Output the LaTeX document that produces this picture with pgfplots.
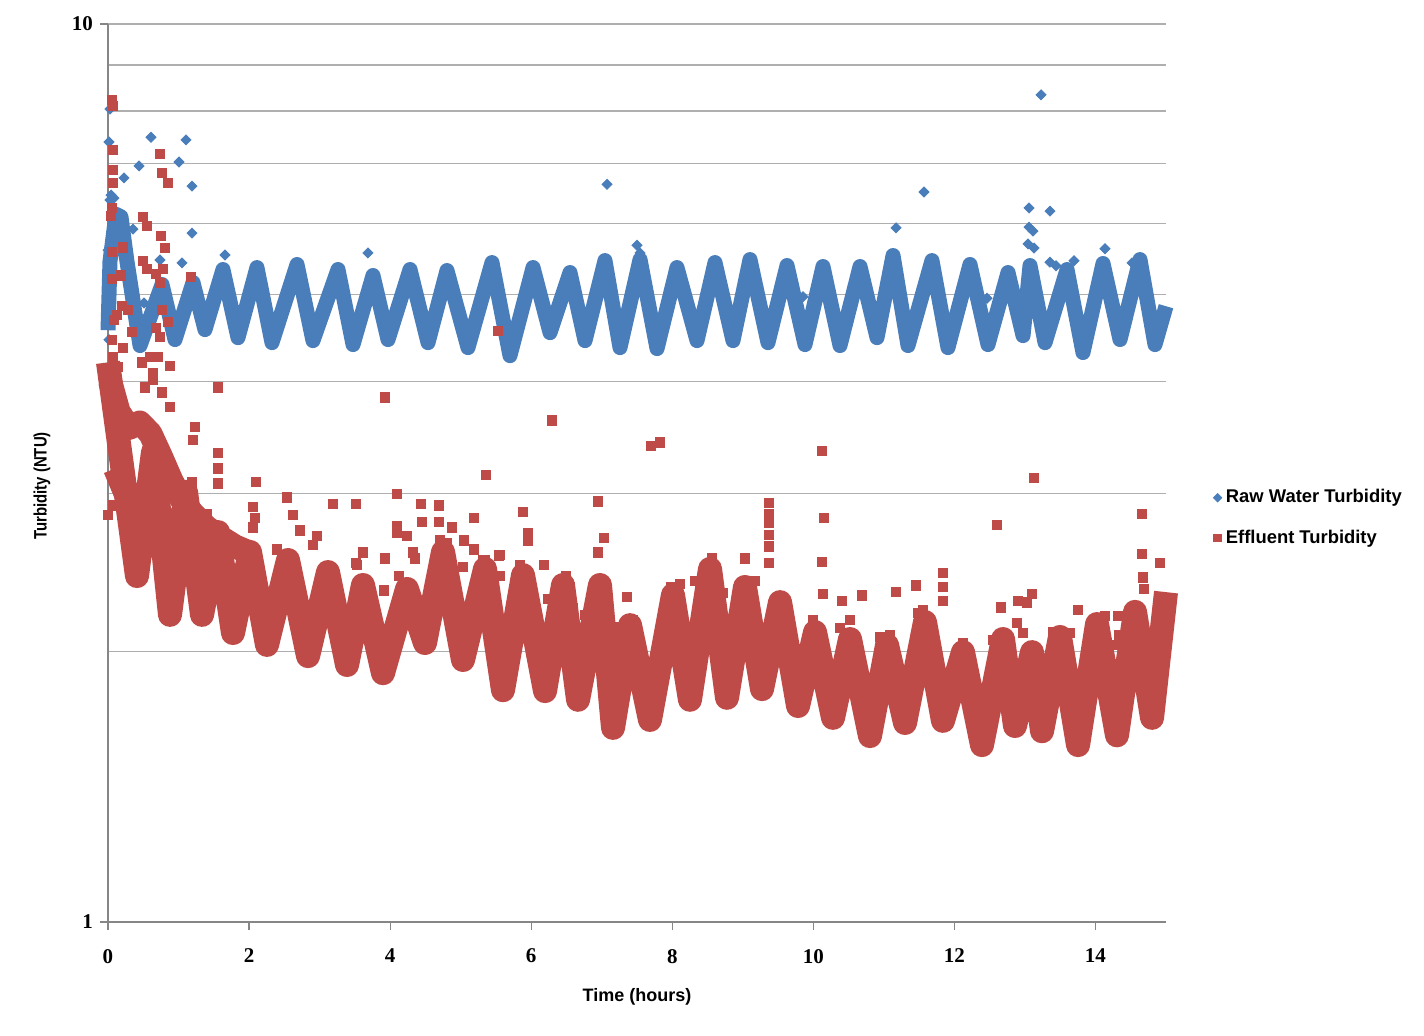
\documentclass[border=0pt]{standalone}
\usepackage{pgfplots}
\pgfplotsset{compat=1.18}
\usepackage{fontspec}
\setmainfont{Liberation Sans}
\newfontfamily\tickfont{Liberation Serif}
\newfontfamily\narrowfont[FakeStretch=0.83]{Liberation Sans}
\definecolor{rawblue}{RGB}{74,126,187}
\definecolor{effred}{RGB}{190,75,72}
\definecolor{gridgray}{RGB}{175,175,175}
\definecolor{axisgray}{RGB}{134,134,134}
\begin{document}
\begin{tikzpicture}
\useasboundingbox (-54pt,-56.5pt) rectangle (658pt,461pt);
\begin{axis}[
  scale only axis, width=529pt, height=449pt,
  anchor=south west, at={(0pt,0pt)},
  ymode=log, ymin=1, ymax=10, xmin=0, xmax=15,
  clip=false,
  axis x line*=bottom, axis y line*=left,
  axis line style={axisgray, line width=0.7pt},
  xtick={0,2,4,6,8,10,12,14}, xticklabels={0,2,4,6,8,10,12,14},
  ytick={1,10}, yticklabels={1,10},
  minor ytick={2,3,4,5,6,7,8,9},
  ymajorgrids, yminorgrids,
  major grid style={gridgray, line width=0.6pt},
  minor grid style={gridgray, line width=0.6pt},
  tick align=outside, major tick length=4pt, minor tick length=0pt,
  tick style={axisgray, line width=0.6pt},
  tick label style={font=\tickfont\bfseries\fontsize{10.5}{12}\selectfont},
  /pgf/number format/assume math mode=true,
  xticklabel style={yshift=-6pt},
  xlabel={Time (hours)}, ylabel={Turbidity (NTU)},
  xlabel style={font=\bfseries\fontsize{9}{11}\selectfont, at={(axis description cs:0.5,-0.0835)}, anchor=center},
  ylabel style={font=\narrowfont\bfseries\fontsize{9}{11}\selectfont, at={(axis description cs:-0.0624,0.4855)}, anchor=center},
  legend style={at={(axis description cs:1,0.45)}, anchor=west, xshift=23.5pt, draw=none, fill=none,
    font=\bfseries\fontsize{9.2}{11}\selectfont, row sep=8pt, cells={anchor=west}, inner sep=0pt},
  legend image code/.code={\draw[mark repeat=2,mark phase=2,#1] plot coordinates {(0pt,0pt)(4pt,0pt)(10.5pt,0pt)};},
]
% Raw water: main oscillating band
\addplot[rawblue, line width=7.5pt, line join=round, forget plot] coordinates {
(0.000,4.56) (0.028,5.44) (0.113,6.14) (0.184,6.10) (0.269,5.44) (0.454,4.385)
(0.766,5.127) (0.950,4.453) (1.205,5.153) (1.375,4.568) (1.630,5.328) (1.843,4.475)
(2.112,5.355) (2.325,4.418) (2.680,5.397) (2.906,4.441) (3.261,5.328) (3.474,4.396)
(3.757,5.247) (3.970,4.453) (4.282,5.328) (4.537,4.418) (4.806,5.314) (5.104,4.362)
(5.444,5.424) (5.699,4.273) (6.026,5.355) (6.267,4.533) (6.550,5.287) (6.763,4.441)
(7.046,5.452) (7.259,4.362) (7.543,5.466) (7.784,4.351) (8.067,5.355) (8.351,4.441)
(8.606,5.424) (8.861,4.441) (9.102,5.466) (9.357,4.418) (9.627,5.383) (9.882,4.396)
(10.137,5.369) (10.378,4.385) (10.662,5.369) (10.903,4.475) (11.130,5.523) (11.342,4.385)
(11.682,5.452) (11.909,4.362) (12.221,5.397) (12.476,4.396) (12.760,5.287) (12.973,4.498)
(13.072,5.383) (13.285,4.418) (13.597,5.328) (13.823,4.307) (14.107,5.411) (14.348,4.453)
(14.631,5.466) (14.844,4.396) (15.000,4.85)
};
% Raw water: scattered readings
\addplot[only marks, mark=square*, mark size=1.77pt, mark options={rotate=45, draw=rawblue, fill=rawblue}, forget plot] coordinates {
(0.000,5.60) (0.000,5.19) (0.000,4.80) (0.014,4.45) (0.028,6.37) (0.043,6.45) (0.085,6.40) (0.156,5.90) (0.057,5.75)
(0.028,8.04) (0.014,7.39) (0.610,7.48) (1.106,7.43) (1.007,7.02) (0.440,6.95) (0.227,6.74) (1.191,6.60)
(0.354,5.91) (1.191,5.85) (0.737,5.46) (1.049,5.42) (1.659,5.53) (0.510,4.89) (3.686,5.56) (7.500,5.67)
(7.543,5.56) (7.075,6.63) (11.569,6.50) (11.172,5.93) (13.228,8.34) (13.058,6.24) (13.058,5.94) (13.114,5.88)
(13.044,5.69) (13.129,5.63) (13.355,6.19) (13.355,5.43) (13.441,5.38) (13.696,5.45) (14.135,5.62) (14.518,5.42)
(9.854,4.97) (12.462,4.95)
};
% Effluent: main oscillating band
\addplot[effred, line width=12pt, line join=round, forget plot] coordinates {
(0.000,4.20) (0.411,2.428) (0.638,3.337) (0.879,2.198) (1.106,3.013) (1.333,2.198) (1.560,2.718)
(1.772,2.098) (2.013,2.583) (2.254,2.035) (2.552,2.530) (2.836,1.978) (3.119,2.453) (3.389,1.933)
(3.615,2.373) (3.899,1.893) (4.239,2.349) (4.494,2.045) (4.750,2.583) (5.033,1.958) (5.345,2.473)
(5.600,1.812) (5.884,2.434) (6.196,1.808) (6.451,2.373) (6.664,1.768) (6.975,2.373) (7.160,1.645)
(7.401,2.141) (7.684,1.679) (8.010,2.313) (8.251,1.768) (8.535,2.473) (8.776,1.777) (9.031,2.361)
(9.272,1.817) (9.528,2.271) (9.783,1.740) (10.024,2.103) (10.279,1.688) (10.520,2.066) (10.803,1.611)
(11.045,2.034) (11.300,1.666) (11.583,2.158) (11.838,1.675) (12.122,1.998) (12.391,1.574) (12.689,2.066)
(12.859,1.653) (13.100,1.998) (13.242,1.631) (13.497,2.077) (13.753,1.574) (14.022,2.147) (14.305,1.614)
(14.561,2.215) (14.802,1.688) (15.000,2.33)
};
% Effluent: early dense mass (upper and middle layers)
\addplot[effred, line width=12pt, line join=round, forget plot] coordinates {
(0.030,4.00) (0.150,3.70) (0.300,3.55) (0.450,3.60) (0.600,3.50) (0.750,3.30) (0.900,3.10)
(1.050,2.95) (1.200,2.85) (1.400,2.75) (1.600,2.68) (1.800,2.62) (2.000,2.58)
};
\addplot[effred, line width=12pt, line join=round, forget plot] coordinates {
(0.100,3.20) (0.250,3.00) (0.400,2.95) (0.550,3.00) (0.700,2.90) (0.850,2.75) (1.000,2.65)
(1.150,2.60) (1.300,2.55) (1.450,2.48) (1.600,2.42)
};
% Effluent: scattered readings
\addplot[only marks, mark=square*, mark size=2.3pt, mark options={draw=effred, fill=effred}, forget plot] coordinates {
(0.057,8.23) (0.071,8.10) (0.071,7.24) (0.071,6.88) (0.071,6.65) (0.057,6.24) (0.043,6.11) (0.213,5.64)
(0.057,5.57) (0.184,5.25) (0.057,5.20) (0.737,7.17) (0.766,6.83) (0.851,6.65) (0.496,6.10) (0.553,5.96)
(0.751,5.81) (0.808,5.63) (0.496,5.45) (0.553,5.34) (0.681,5.27) (0.780,5.34) (0.737,5.15) (1.177,5.23)
(0.766,4.80) (0.851,4.66) (0.681,4.59) (0.737,4.48) (0.198,4.85) (0.284,4.80) (0.128,4.74) (0.085,4.68)
(0.340,4.54) (0.213,4.36) (0.482,4.20) (0.595,4.26) (0.709,4.26) (0.879,4.16) (0.057,4.45) (0.071,4.26)
(0.142,4.15) (0.638,4.09) (1.560,3.94) (0.525,3.94) (0.638,4.02) (0.766,3.89) (0.879,3.75) (1.233,3.56)
(1.205,3.44) (1.560,3.33) (1.560,3.20) (1.560,3.08) (1.191,3.09) (1.163,3.01) (2.098,3.09) (2.538,2.97)
(3.190,2.92) (2.056,2.90) (2.084,2.82) (2.056,2.75) (2.623,2.84) (2.722,2.73) (1.021,2.91) (1.404,2.85)
(1.007,2.78) (0.000,2.84) (0.071,2.91) (2.396,2.60) (2.963,2.69) (2.906,2.63)
(3.927,3.84) (6.295,3.62) (5.529,4.55) (5.359,3.15) (7.698,3.39) (7.826,3.42) (10.123,3.35) (10.151,2.82)
(13.129,3.12) (12.604,2.77) (14.660,2.85) (6.947,2.94) (3.516,2.92) (4.097,3.00) (4.438,2.92) (4.693,2.91)
(4.452,2.79) (4.693,2.79) (4.097,2.76) (4.097,2.71) (4.239,2.69) (4.877,2.75) (5.189,2.82) (5.047,2.66)
(5.189,2.60) (5.884,2.86) (5.955,2.71) (5.955,2.66) (7.032,2.68) (6.947,2.58) (5.543,2.56) (5.558,2.43)
(6.181,2.50) (6.493,2.43) (6.550,2.36) (6.238,2.29) (6.763,2.20) (9.031,2.54) (8.563,2.54) (8.322,2.40)
(8.110,2.38) (7.982,2.36) (7.358,2.30) (3.516,2.51) (3.615,2.58) (3.927,2.54) (3.913,2.34) (4.126,2.43)
(4.324,2.58) (4.353,2.54) (5.345,2.53) (5.841,2.50)
(9.372,2.93) (9.372,2.85) (9.372,2.78) (9.372,2.70) (9.372,2.62) (9.372,2.51) (10.123,2.52) (14.660,2.57)
(14.915,2.51) (11.838,2.45) (11.838,2.36) (11.838,2.28) (11.456,2.37) (10.690,2.31) (11.172,2.33) (10.407,2.28)
(9.173,2.40) (10.137,2.32) (12.902,2.28) (13.100,2.32) (13.029,2.27) (12.661,2.24) (14.135,2.19) (14.320,2.19)
(14.334,2.09) (14.674,2.42) (14.688,2.35)
(9.570,2.272) (9.996,2.170) (10.378,2.125) (10.520,2.170) (10.945,2.077) (11.087,2.087) (11.484,2.209)
(11.555,2.226) (12.122,2.045) (12.547,2.061) (12.888,2.153) (12.973,2.098) (13.398,2.103) (14.305,2.035)
(14.589,2.077) (14.872,2.131) (13.753,2.226) (13.639,2.098) (14.036,2.153)
(3.530,2.498) (4.707,2.663) (4.806,2.642) (5.033,2.485) (5.317,2.530) (5.558,2.562) (6.408,2.284)
(6.593,2.237) (7.259,2.131) (7.443,2.170) (7.826,2.077) (7.968,2.301) (8.492,2.466) (8.719,2.324) (8.960,2.342)
};
\addlegendimage{only marks, mark=square*, mark size=1.5pt, mark options={rotate=45, draw=rawblue, fill=rawblue}}
\addlegendentry{Raw Water Turbidity}
\addlegendimage{only marks, mark=square*, mark size=1.9pt, mark options={draw=effred, fill=effred}}
\addlegendentry{Effluent Turbidity}
\end{axis}
\end{tikzpicture}
\end{document}
